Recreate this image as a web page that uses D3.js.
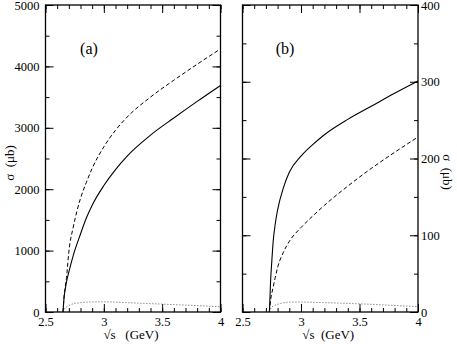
<!DOCTYPE html>
<html>
<head>
<meta charset="utf-8">
<script src="https://cdn.jsdelivr.net/npm/d3@7"></script>
<style>
  body { margin: 0; background: #fff; }
  text { font-family: "Liberation Serif", "DejaVu Serif", serif; fill: #000; }
</style>
</head>
<body>
<script>
// panel (a)
var xA = [2.65, 2.66, 2.67, 2.68, 2.70, 2.74, 2.80, 2.85, 2.90, 3.00, 3.10, 3.20, 3.40, 3.60, 3.80, 4.00];
var solidA = [0, 250, 380, 490, 650, 935, 1270, 1530, 1740, 2060, 2320, 2540, 2880, 3160, 3430, 3690];
var dashA  = [0, 270, 420, 560, 980, 1400, 1850, 2110, 2340, 2690, 2960, 3175, 3500, 3775, 4035, 4285];
var dotA   = [0, 40, 65, 82, 105, 135, 152, 160, 164, 166, 160, 152, 136, 120, 104, 86];

// panel (b)
var xB = [2.73, 2.74, 2.75, 2.76, 2.78, 2.80, 2.85, 2.90, 3.00, 3.10, 3.20, 3.40, 3.60, 3.80, 4.00];
var solidB = [0, 40, 65, 88, 115, 133, 162, 182, 203, 218, 231, 251, 268, 285, 301];
var dashB  = [0, 15, 24, 31, 45, 58, 78, 92, 110, 125, 139, 164, 187, 208, 228];
var dotB   = [0, 4, 6, 7.5, 9, 10, 12, 12.8, 13, 12.6, 12.2, 11.2, 10, 8.5, 7];

var xTicks = [2.5, 3, 3.5, 4];
var yTicksA = [0, 1000, 2000, 3000, 4000, 5000];
var yTicksB = [0, 100, 200, 300, 400];

var W = 457, H = 344;
var svg = d3.select("body").append("svg")
    .attr("width", W)
    .attr("height", H);

var panels = [
  {x: xA, s: solidA, d: dashA, o: dotA, yMax: 5000, yt: yTicksA, ym: 500,
   left: 45.5, right: 220.5, label: "(a)", lx: 89, side: "left", title: "\u221As   (GeV)"},
  {x: xB, s: solidB, d: dashB, o: dotB, yMax: 400, yt: yTicksB, ym: 50,
   left: 242.5, right: 418, label: "(b)", lx: 285, side: "right", title: "\u221As  (GeV)"}
];
var yTop = 5, yBot = 312;

panels.forEach(function(p) {
  var x = d3.scaleLinear().domain([2.5, 4]).range([p.left, p.right]);
  var y = d3.scaleLinear().domain([0, p.yMax]).range([yBot, yTop]);
  var g = svg.append("g");

  var minorX = d3.range(2.5, 4.001, 0.1);
  var minorY = d3.range(0, p.yMax + 0.001, p.ym);

  function styleAxis(sel) {
    sel.select(".domain").remove();
    sel.selectAll(".tick line").attr("stroke", "#000").attr("stroke-width", 1);
    sel.selectAll(".tick text").style("font-size", "12.5px")
      .style("font-family", "Liberation Serif, serif");
  }

  // minor ticks
  g.append("g").attr("transform", "translate(0," + yBot + ")")
    .call(d3.axisBottom(x).tickValues(minorX).tickSize(-4).tickFormat(""))
    .call(styleAxis);
  g.append("g").attr("transform", "translate(0," + yTop + ")")
    .call(d3.axisTop(x).tickValues(minorX).tickSize(-4).tickFormat(""))
    .call(styleAxis);
  g.append("g").attr("transform", "translate(" + p.left + ",0)")
    .call(d3.axisLeft(y).tickValues(minorY).tickSize(-4).tickFormat(""))
    .call(styleAxis);
  g.append("g").attr("transform", "translate(" + p.right + ",0)")
    .call(d3.axisRight(y).tickValues(minorY).tickSize(-4).tickFormat(""))
    .call(styleAxis);

  // major ticks
  g.append("g").attr("transform", "translate(0," + yBot + ")")
    .call(d3.axisBottom(x).tickValues(xTicks).tickSize(-8).tickPadding(5)
      .tickFormat(function(d) { return String(d); }))
    .call(styleAxis);
  g.append("g").attr("transform", "translate(0," + yTop + ")")
    .call(d3.axisTop(x).tickValues(xTicks).tickSize(-8).tickFormat(""))
    .call(styleAxis);
  g.append("g").attr("transform", "translate(" + p.left + ",0)")
    .call(d3.axisLeft(y).tickValues(p.yt).tickSize(-8)
      .tickPadding(6).tickFormat(p.side == "left" ? d3.format("d") : ""))
    .call(styleAxis);
  g.append("g").attr("transform", "translate(" + p.right + ",0)")
    .call(d3.axisRight(y).tickValues(p.yt).tickSize(-8)
      .tickPadding(3).tickFormat(p.side == "right" ? d3.format("d") : ""))
    .call(styleAxis);

  // frame
  g.append("rect")
    .attr("x", p.left).attr("y", yTop)
    .attr("width", p.right - p.left).attr("height", yBot - yTop)
    .attr("fill", "none").attr("stroke", "#000").attr("stroke-width", 1.3);

  var line = d3.line()
    .x(function(d) { return x(d[0]); })
    .y(function(d) { return y(d[1]); })
    .curve(d3.curveMonotoneX);

  function series(vals) { return p.x.map(function(v, i) { return [v, vals[i]]; }); }

  g.append("path").attr("d", line(series(p.o)))
    .attr("fill", "none").attr("stroke", "#555").attr("stroke-width", 1)
    .attr("stroke-dasharray", "1,2");
  g.append("path").attr("d", line(series(p.d)))
    .attr("fill", "none").attr("stroke", "#000").attr("stroke-width", 1)
    .attr("stroke-dasharray", "4,2.5");
  g.append("path").attr("d", line(series(p.s)))
    .attr("fill", "none").attr("stroke", "#000").attr("stroke-width", 1.1);

  g.append("text")
    .attr("x", p.lx).attr("y", 54)
    .attr("text-anchor", "middle")
    .style("font-size", "16px")
    .text(p.label);

  g.append("text")
    .attr("x", (p.left + p.right) / 2 - 2).attr("y", 339)
    .attr("text-anchor", "middle")
    .style("font-size", "13px")
    .style("white-space", "pre")
    .text(p.title);

  var ty = p.side == "left"
    ? "translate(14,163) rotate(-90)"
    : "translate(443,172) rotate(90)";
  g.append("text")
    .attr("transform", ty)
    .attr("text-anchor", "middle")
    .style("font-size", "13px")
    .style("white-space", "pre")
    .text("\u03C3  (\u03BCb)");
});
</script>
</body>
</html>
